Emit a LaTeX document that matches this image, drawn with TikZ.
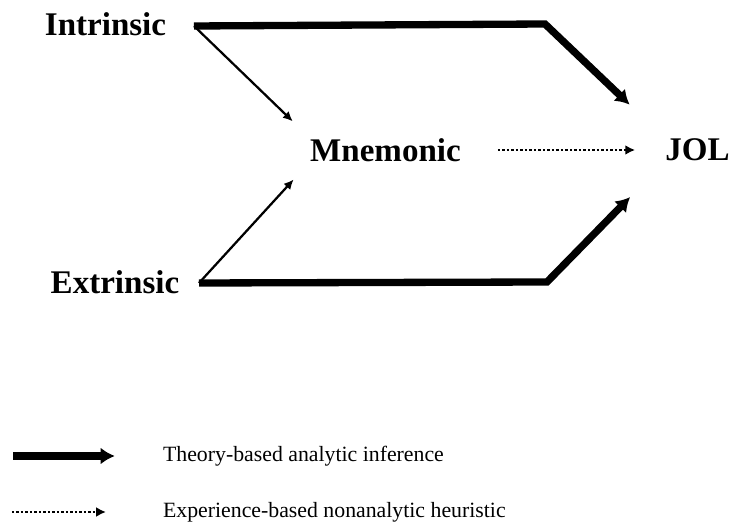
\documentclass[tikz,border=0pt]{standalone}
\usepackage{fontspec}
\setmainfont{Liberation Serif}
\usetikzlibrary{arrows.meta}
\tikzstyle{factor}=[
        font = \fontsize{23.5}{28}\selectfont\bfseries,
        inner sep = 2pt
    ]
\tikzstyle{key}=[
        font = \fontsize{15.5}{19}\selectfont,
        anchor = west,
        inner sep = 2pt
    ]

\begin{document}
\begin{tikzpicture}[x=0.025cm, y=-0.025cm, node distance={7.8cm},
        theory/.style = {line width=5.2pt, -{Latex[length=10pt,width=12pt]}},
        direct/.style = {line width=1.6pt, -{Latex[length=7pt,width=6.5pt]}},
        heuristic/.style = {line width=2pt, dash pattern=on 1.6pt off 1.6pt, -{Latex[length=7pt,width=7pt]}}]
        \useasboundingbox (0,0) rectangle (732,523);

        \node[factor] (I) at (105.5,24) {Intrinsic};
        \node[factor] (E) at (115,282) {Extrinsic};
        \node[factor] (M) at (385.5,150) {Mnemonic};
        \node[factor] (J) [right of = M] {JOL};

        \coordinate (It) at (194,26);
        \coordinate (Et) at (199,283);
        \coordinate (Ic) at (545,24);
        \coordinate (Ec) at (547,282);

        \draw[theory, shorten >=1.13cm] (It) -- (Ic) -- (J.north west);
        \draw[theory, shorten >=1.15cm] (Et) -- (Ec) -- (J.south west);
        \draw[direct, shorten >=0.5cm] (It) -- (M.north west);
        \draw[direct, shorten >=0.5cm] (Et) -- (M.south west);
        \draw[heuristic, shorten <=0.85cm, shorten >=0.68cm] (M.east) -- (J.west);

        % legend
        \node[key] (T) at (160,456) {Theory-based analytic inference};
        \node[key] (X) at (160,512) {Experience-based nonanalytic heuristic};
        \coordinate (Tt) at (13,456);
        \coordinate (Xt) at (12,512);
        \draw[theory, shorten >=1.13cm] (Tt) -- (T.west);
        \draw[heuristic, shorten >=1.35cm] (Xt) -- (X.west);
    \end{tikzpicture}
\end{document}
